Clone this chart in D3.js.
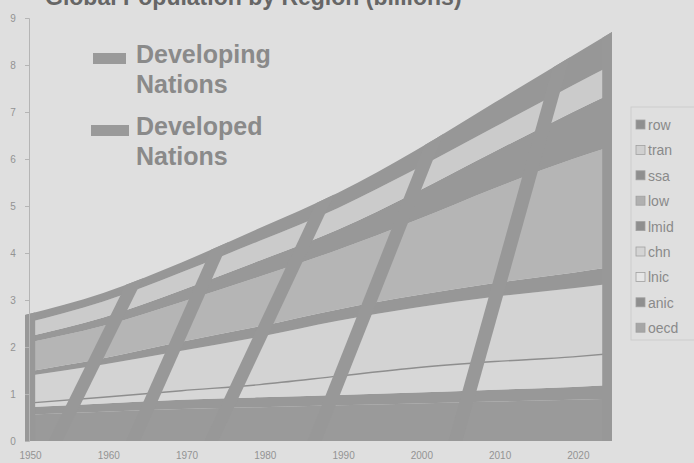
<!DOCTYPE html>
<html><head><meta charset="utf-8">
<script src="https://cdn.jsdelivr.net/npm/d3@7/dist/d3.min.js"></script>
<style>
html,body{margin:0;padding:0;background:#dfdfdf;}
svg{display:block;font-family:"Liberation Sans",Arial,sans-serif;}
</style></head>
<body>
<svg id="c" width="694" height="463"></svg>
<script>
// ---- data (billions) ----
const years = [1950, 1960, 1970, 1980, 1990, 2000, 2010, 2020, 2025];
const oecd  = [0.56, 0.62, 0.68, 0.72, 0.76, 0.80, 0.84, 0.88, 0.90];
const anic  = [0.16, 0.18, 0.20, 0.21, 0.22, 0.23, 0.25, 0.27, 0.29];
const lnic  = [0.08, 0.13, 0.19, 0.27, 0.40, 0.53, 0.60, 0.64, 0.67];
const chn   = [0.58, 0.70, 0.85, 1.02, 1.18, 1.28, 1.38, 1.46, 1.49];
const lmid  = [0.09, 0.13, 0.19, 0.22, 0.24, 0.26, 0.29, 0.33, 0.35];
const low   = [0.61, 0.69, 0.85, 1.06, 1.27, 1.60, 2.02, 2.42, 2.57];
const ssa   = [0.13, 0.18, 0.25, 0.34, 0.43, 0.60, 0.78, 1.00, 1.13];
const tran  = [0.30, 0.34, 0.38, 0.42, 0.46, 0.49, 0.52, 0.57, 0.60];
const row   = [0.17, 0.18, 0.21, 0.27, 0.32, 0.40, 0.52, 0.63, 0.70];
const seriesNames = ["oecd", "anic", "lnic", "chn", "lmid", "low", "ssa", "tran", "row"];
const seriesValues = {oecd, anic, lnic, chn, lmid, low, ssa, tran, row};
const yTicks = [0, 1, 2, 3, 4, 5, 6, 7, 8, 9];
const xTicks = [1950, 1960, 1970, 1980, 1990, 2000, 2010, 2020];
const titleText = "Global Population by Region (billions)";
const noteLabels = [["Developing", "Nations"], ["Developed", "Nations"]];

// decorative diagonal bands (year at value 0, year at value 9)
const bandBaseYear = [1953.9, 1963.8, 1973.8, 1987.0, 2005.0];
const bandTopYear  = [1980.6, 1987.8, 1999.2, 2008.4, 2020.1];

// ---- styles ----
const colors = {
  oecd: "#9a9a9a", anic: "#989898", lnic: "#d7d7d7", chn: "#d3d3d3",
  lmid: "#979797", low: "#b5b5b5", ssa: "#989898", tran: "#cbcbcb", row: "#979797"
};
const legendColors = {
  row: "#8f8f8f", tran: "#d0d0d0", ssa: "#8f8f8f", low: "#b0b0b0", lmid: "#8f8f8f",
  chn: "#d4d4d4", lnic: "#e6e6e6", anic: "#8f8f8f", oecd: "#a6a6a6"
};
const darkBand = "#989898";
const textGray = "#8a8a8a";

const svg = d3.select("#c");
const x = d3.scaleLinear().domain([1950, 2025]).range([25, 612]);
const y = d3.scaleLinear().domain([0, 9]).range([441, 18]);

// table
const table = years.map((yr, i) => {
  const o = {year: yr};
  seriesNames.forEach(s => o[s] = seriesValues[s][i]);
  return o;
});
const stack = d3.stack().keys(seriesNames)(table);
const curve = d3.curveMonotoneX;
const area = d3.area().x(d => x(d.data.year)).y0(d => y(d[0])).y1(d => y(d[1])).curve(curve);

// clip path = total stack
const totalArea = d3.area().x(d => x(d.data.year)).y0(y(0)).y1(d => y(d[1])).curve(curve);
svg.append("clipPath").attr("id", "stackClip")
  .append("path").attr("d", totalArea(stack[stack.length - 1]));

const g = svg.append("g");
g.selectAll("path.layer").data(stack).join("path")
  .attr("class", "layer")
  .attr("d", area)
  .attr("fill", d => colors[d.key]);

// thin boundary line atop lnic
const lnicLayer = stack.find(s => s.key === "lnic");
g.append("path")
  .attr("d", d3.line().x(d => x(d.data.year)).y(d => y(d[1])).curve(curve)(lnicLayer))
  .attr("fill", "none").attr("stroke", "#8e8e8e").attr("stroke-width", 1.4);

// decorative bands clipped to stack
const deco = svg.append("g").attr("clip-path", "url(#stackClip)");
const bw = 0.9; // half-width in years
bandBaseYear.forEach((b, i) => {
  const t = bandTopYear[i];
  const pts = [[b - bw, 0], [b + bw, 0], [t + bw, 9], [t - bw, 9]]
    .map(p => [x(p[0]), y(p[1])]);
  deco.append("path").attr("d", d3.line()(pts) + "Z").attr("fill", darkBand);
});
// left/right edge frames
[[1950, 1951.3], [2023.75, 2025]].forEach(r => {
  const pts = [[r[0], 0], [r[1], 0], [r[1], 9], [r[0], 9]].map(p => [x(p[0]), y(p[1])]);
  deco.append("path").attr("d", d3.line()(pts) + "Z").attr("fill", darkBand);
});

// y axis
const yAxis = svg.append("g").attr("transform", "translate(29,0)")
  .call(d3.axisLeft(y).tickValues(yTicks).tickSize(4).tickFormat(d3.format("d")));
yAxis.select(".domain").attr("stroke", "#b5b5b5");
yAxis.selectAll(".tick line").attr("stroke", "#b5b5b5");
yAxis.selectAll("text").attr("fill", "#939393").attr("font-size", 10)
  .attr("text-anchor", "middle").attr("x", -16);

// x axis labels
const xAxis = svg.append("g").attr("transform", "translate(5,441)")
  .call(d3.axisBottom(x).tickValues(xTicks).tickSize(0).tickPadding(11).tickFormat(d3.format("d")));
xAxis.select(".domain").remove();
xAxis.selectAll("text").attr("fill", "#939393").attr("font-size", 10);

// title (cut off at top, as in the source)
svg.append("text").attr("x", 45).attr("y", 5)
  .attr("font-size", 23).attr("font-weight", "bold").attr("fill", "#666666")
  .text(titleText);

// big annotation legend
const notes = svg.append("g");
const noteY = [63, 135];
const swX = [[93, 126], [91, 129]];
noteLabels.forEach((lines, i) => {
  notes.append("rect").attr("x", swX[i][0]).attr("y", noteY[i] - 10)
    .attr("width", swX[i][1] - swX[i][0]).attr("height", 11).attr("fill", "#9a9a9a");
  lines.forEach((ln, j) => {
    notes.append("text").attr("x", 136).attr("y", noteY[i] + j * 30)
      .attr("font-size", 25).attr("font-weight", "bold").attr("fill", textGray).text(ln);
  });
});

// right legend
const leg = svg.append("g");
leg.append("rect").attr("x", 631).attr("y", 107).attr("width", 80).attr("height", 233)
  .attr("fill", "none").attr("stroke", "#cdcdcd").attr("stroke-width", 1);
const legendOrder = seriesNames.slice().reverse();
legendOrder.forEach((s, i) => {
  const cy = 125 + i * 25.4;
  leg.append("rect").attr("x", 636).attr("y", cy - 5).attr("width", 9).attr("height", 9)
    .attr("fill", legendColors[s]).attr("stroke", "#a0a0a0").attr("stroke-width", 0.8);
  leg.append("text").attr("x", 648).attr("y", cy + 5).attr("font-size", 14)
    .attr("fill", textGray).text(s);
});
</script>
</body></html>
